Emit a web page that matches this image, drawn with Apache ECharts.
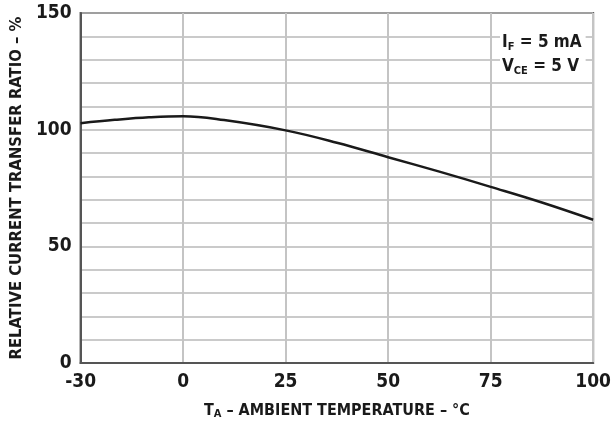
<!DOCTYPE html>
<html>
<head>
<meta charset="utf-8">
<script src="https://cdn.jsdelivr.net/npm/echarts@6/dist/echarts.min.js"></script>
<style>
  html, body { margin: 0; padding: 0; background: #fff; }
  #ctr { width: 614px; height: 425px; }
</style>
</head>
<body>
<div id="ctr"></div>
<script>
var temps = [-30, -20, -10, 0, 10, 25, 37.5, 50, 62.5, 75, 87.5, 100];
var ctr = [102.8, 104.2, 105.3, 105.8, 104.1, 99.7, 94.4, 88.2, 82, 75.5, 68.8, 61.4];
var xTicks = [-30, 0, 25, 50, 75, 100];
var yTicks = [0, 50, 100, 150];

// the printed axis squeezes -30..0 into the same width as one 25 degree step
function pos(t) { return t < 0 ? t * 25 / 30 : t; }

var FONT = '"Liberation Sans Narrow", "DejaVu Sans Condensed", sans-serif';
var pts = [];
for (var i = 0; i < temps.length; i++) {
    pts.push([pos(temps[i]), ctr[i]]);
}

var myChart = echarts.init(document.getElementById('ctr'));
var option = {
    animation: false,
    backgroundColor: '#fff',
    textStyle: { fontFamily: FONT },
    title: {
        text: 'I{s|F} = 5 mA\nV{s|CE} = 5 V',
        left: 500,
        top: 29,
        padding: [2, 4, 2, 2],
        backgroundColor: '#fff',
        textStyle: {
            fontFamily: FONT, fontSize: 17, fontWeight: 'bold', color: '#1a1a1a', lineHeight: 24,
            rich: {
                s: { fontFamily: FONT, fontSize: 11, fontWeight: 'bold', color: '#1a1a1a', padding: [8, 0, 0, 0] }
            }
        }
    },
    grid: {
        left: 79, right: 15, top: 13, bottom: 62,
        show: true, borderColor: '#555', borderWidth: 2
    },
    xAxis: {
        type: 'value',
        min: -25, max: 100, interval: 25,
        name: 'T{s|A} – AMBIENT TEMPERATURE – °C',
        nameLocation: 'middle',
        nameGap: 38,
        nameTextStyle: {
            fontFamily: FONT, fontSize: 16, fontWeight: 'bold', color: '#1a1a1a',
            rich: { s: { fontFamily: FONT, fontSize: 11, fontWeight: 'bold', color: '#1a1a1a', padding: [8, 0, 0, 0] } }
        },
        axisLine: { onZero: false, lineStyle: { color: '#555', width: 2 } },
        axisTick: { show: false },
        axisLabel: {
            fontSize: 19, fontWeight: 'bold', color: '#1a1a1a', margin: 10,
            formatter: function (v) {
                var t = v < 0 ? v * 30 / 25 : v;
                return xTicks.indexOf(Math.round(t)) >= 0 ? String(Math.round(t)) : '';
            }
        },
        splitLine: { show: true, lineStyle: { color: '#c4c4c4', width: 2 } }
    },
    yAxis: {
        type: 'value',
        min: 0, max: 150, interval: 10,
        name: 'RELATIVE CURRENT TRANSFER RATIO – %',
        nameLocation: 'middle',
        nameGap: 54,
        nameTextStyle: { fontFamily: FONT, fontSize: 16.5, fontWeight: 'bold', color: '#1a1a1a' },
        axisLine: { show: true, onZero: false, lineStyle: { color: '#555', width: 2 } },
        axisTick: { show: false },
        axisLabel: {
            fontSize: 19, fontWeight: 'bold', color: '#1a1a1a', margin: 9,
            formatter: function (v) { return yTicks.indexOf(v) >= 0 ? String(v) : ''; }
        },
        splitLine: { show: true, lineStyle: { color: '#b8b8b8', width: 1.5 } }
    },
    series: [
        {
            type: 'line',
            data: pts,
            smooth: 0.4,
            showSymbol: false,
            lineStyle: { color: '#1a1a1a', width: 2.5 }
        }
    ]
};
option && myChart.setOption(option);
</script>
</body>
</html>
